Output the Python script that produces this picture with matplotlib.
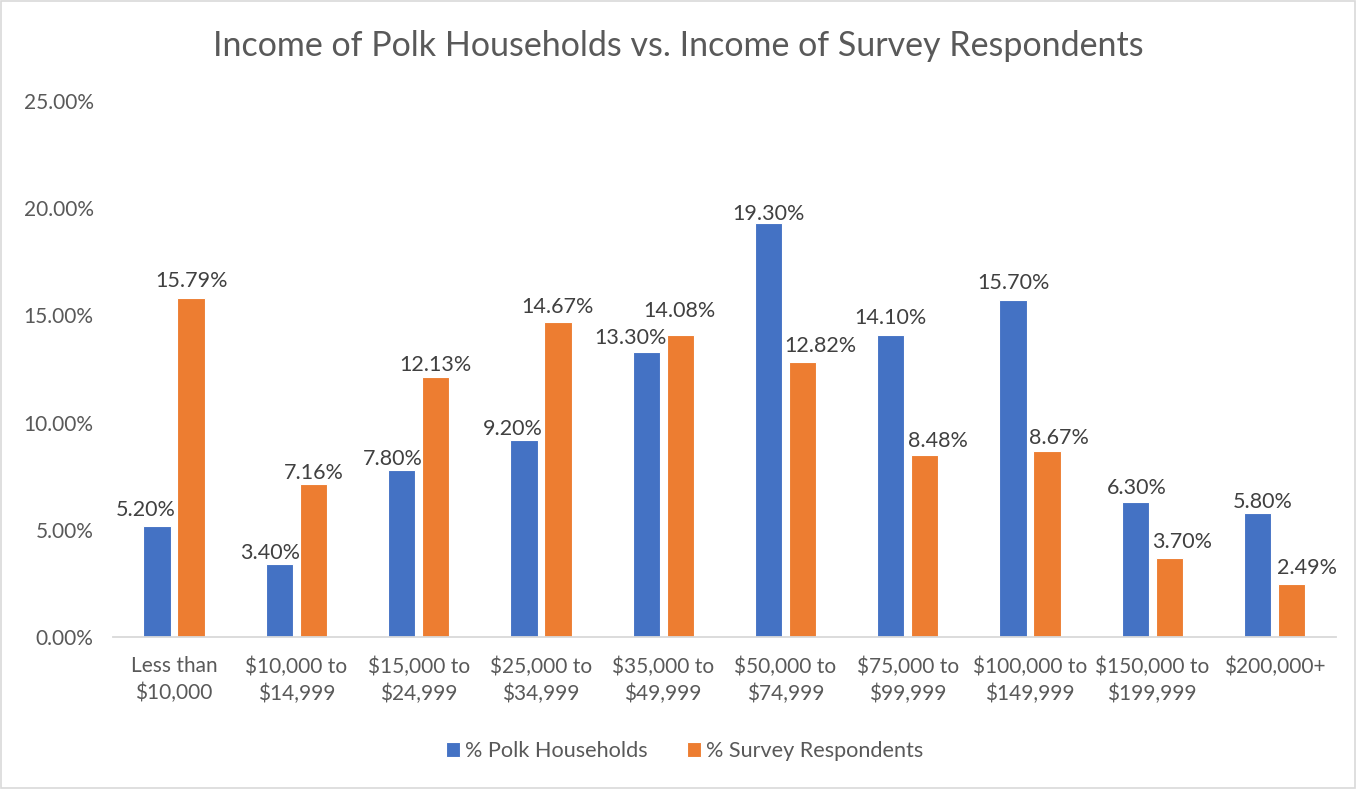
import numpy as np
import matplotlib.pyplot as plt
from matplotlib.ticker import FuncFormatter

# Income brackets and the share of each group falling into them (%)
categories = ["Less than\n$10,000", "$10,000 to\n$14,999", "$15,000 to\n$24,999",
              "$25,000 to\n$34,999", "$35,000 to\n$49,999", "$50,000 to\n$74,999",
              "$75,000 to\n$99,999", "$100,000 to\n$149,999", "$150,000 to\n$199,999",
              "$200,000+"]
polk_households = [5.20, 3.40, 7.80, 9.20, 13.30, 19.30, 14.10, 15.70, 6.30, 5.80]
survey_respondents = [15.79, 7.16, 12.13, 14.67, 14.08, 12.82, 8.48, 8.67, 3.70, 2.49]

# value-label nudges in pixels (dx, gap above bar) so neighbouring labels don't collide
polk_label_nudge = [(-11, 10), (-9, 5), (-9, 5), (-11, 5), (-16, 8),
                    (0, 3), (0, 11), (0, 11), (2, 8), (5, 5)]
survey_label_nudge = [(0, 11), (0, 5), (0, 6), (0, 9), (-1, 18),
                      (18, 10), (13, 8), (12, 7), (13, 10), (15, 10)]

plt.rcParams['font.family'] = ['Lato', 'DejaVu Sans']

blue = '#4472C4'
orange = '#ED7D31'
text_col = '#595959'
label_col = '#404040'
px = 0.72  # points per pixel at 100 dpi

fig = plt.figure(figsize=(13.56, 7.89), dpi=100)
ax = fig.add_axes([0.0833, 0.1926, 0.9017, 0.6794])

x = np.arange(len(categories))
w = 0.223
off = 0.139
b1 = ax.bar(x - off, polk_households, w, color=blue, edgecolor='white', linewidth=0.8,
            label='% Polk Households')
b2 = ax.bar(x + off, survey_respondents, w, color=orange, edgecolor='white', linewidth=0.8,
            label='% Survey Respondents')

for bars, vals, nudges in ((b1, polk_households, polk_label_nudge),
                           (b2, survey_respondents, survey_label_nudge)):
    for bar, v, (dx, dy) in zip(bars, vals, nudges):
        ax.annotate(f"{v:.2f}%", (bar.get_x() + bar.get_width() / 2, v),
                    xytext=(dx * px, dy * px), textcoords='offset points',
                    ha='center', va='baseline', fontsize=15.5, color=label_col)

ax.set_xlim(-0.5, len(categories) - 0.5)
ax.set_ylim(0, 25)
ax.set_yticks(np.arange(0, 26, 5))
ax.yaxis.set_major_formatter(FuncFormatter(lambda v, p: f"{v:.2f}%"))
ax.set_xticks(x)
ax.set_xticklabels(categories, linespacing=1.4)
ax.tick_params(axis='both', length=0, labelsize=15, colors=text_col)
ax.tick_params(axis='y', pad=14)
ax.tick_params(axis='x', pad=14)

for side in ('top', 'right', 'left'):
    ax.spines[side].set_visible(False)
ax.spines['bottom'].set_color('#D9D9D9')
ax.spines['bottom'].set_linewidth(1.3)

fig.suptitle("Income of Polk Households vs. Income of Survey Respondents",
             x=0.5, y=0.962, fontsize=24.5, color=text_col)

fig.legend(handles=[b1, b2], loc='center', bbox_to_anchor=(0.505, 0.048), ncol=2,
           frameon=False, fontsize=15.6, handlelength=0.65, handleheight=0.65,
           columnspacing=1.8, handletextpad=0.25, labelcolor=text_col)

# light border round the whole chart
fig.patches.append(plt.Rectangle((0.001, 0.001), 0.998, 0.998, transform=fig.transFigure,
                                 fill=False, edgecolor='#D9D9D9', linewidth=1.2))

fig.savefig('out.png', dpi=100)
